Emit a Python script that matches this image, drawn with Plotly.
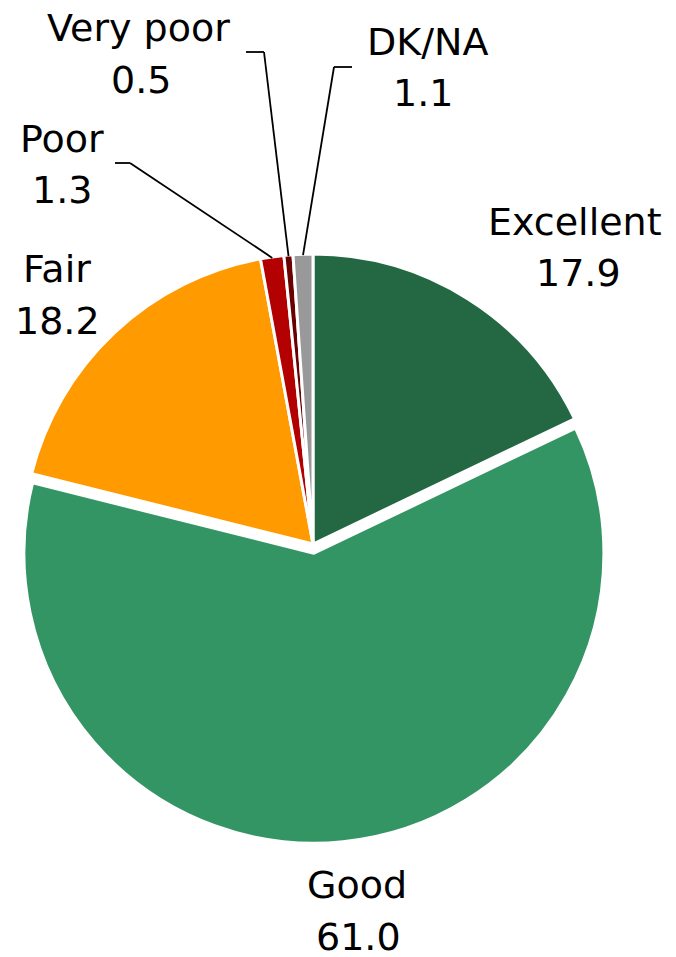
import math
import plotly.graph_objects as go

# ---- data ----
categories = ["Excellent", "Good", "Fair", "Poor", "Very poor", "DK/NA"]
values = [17.9, 61.0, 18.2, 1.3, 0.5, 1.1]
value_labels = ["17.9", "61.0", "18.2", "1.3", "0.5", "1.1"]

# ---- styles ----
colors = ["#236843", "#339563", "#FF9A00", "#B30000", "#6B0000", "#999999"]
pulls = [0, 0.032, 0, 0, 0, 0]

W, H = 676, 957
OFF = 8  # page body margin offsets the figure by 8px
CX, CY, R = 313, 544, 290  # page-pixel centre and radius of the pie


def px(x):
    return (x - OFF) / W


def py(y):
    return 1 - (y - OFF) / H


half = R * (1 + max(pulls))
domain_x = [px(CX - half), px(CX + half)]
domain_y = [py(CY + half), py(CY - half)]

# label placement in page pixels: (name x, name y, value x, value y) -- y is text middle
label_pos = {
    "Excellent": (575, 222, 578, 273),
    "Good": (357, 885, 358, 937),
    "Fair": (57, 269, 57, 321),
    "Poor": (62, 139, 62, 190),
    "Very poor": (138, 28, 141, 80),
    "DK/NA": (427, 42, 423, 93),
}
# leader-line elbows in page pixels (line runs from the last point to the slice edge)
leaders = {
    "Poor": [(115, 163), (130, 163)],
    "Very poor": [(246, 52), (264, 52)],
    "DK/NA": [(352, 67), (334, 67)],
}

FONT = dict(family="DejaVu Sans", size=38, color="black")

fig = go.Figure(
    go.Pie(
        labels=categories,
        values=values,
        sort=False,
        direction="clockwise",
        rotation=0,
        pull=pulls,
        marker=dict(colors=colors, line=dict(color="white", width=3)),
        textinfo="none",
        hoverinfo="label+value",
        domain=dict(x=domain_x, y=domain_y),
        showlegend=False,
    )
)

annotations = []
for cat, val in zip(categories, value_labels):
    nx, ny, vx, vy = label_pos[cat]
    for t, x, y in ((cat, nx, ny), (val, vx, vy)):
        annotations.append(
            dict(
                text=t, x=px(x), y=py(y), xref="paper", yref="paper",
                xanchor="center", yanchor="middle", showarrow=False, font=FONT,
            )
        )

total = sum(values)
shapes = []
cum = 0.0
for cat, v in zip(categories, values):
    mid = (cum + v / 2) / total * 2 * math.pi
    cum += v
    if cat not in leaders:
        continue
    ex = CX + (R - 1) * math.sin(mid)
    ey = CY - (R - 1) * math.cos(mid)
    pts = leaders[cat] + [(ex, ey)]
    for (x0, y0), (x1, y1) in zip(pts[:-1], pts[1:]):
        shapes.append(
            dict(
                type="line", xref="paper", yref="paper",
                x0=px(x0), y0=py(y0), x1=px(x1), y1=py(y1),
                line=dict(color="black", width=1.8),
            )
        )

fig.update_layout(
    width=W,
    height=H,
    margin=dict(l=0, r=0, t=0, b=0),
    paper_bgcolor="white",
    plot_bgcolor="white",
    annotations=annotations,
    shapes=shapes,
)

fig.write_html("out.html")
